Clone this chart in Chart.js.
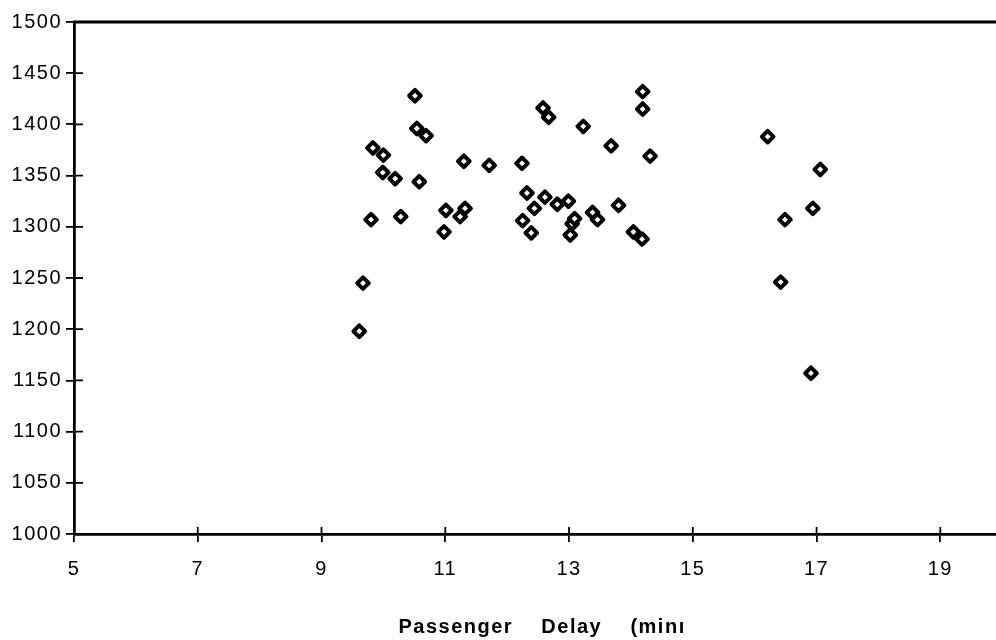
<!DOCTYPE html>
<html>
<head>
<meta charset="utf-8">
<script src="https://cdn.jsdelivr.net/npm/chart.js@4"></script>
<style>
  html, body { margin: 0; padding: 0; background: #fff; }
  #chart { display: block; }
</style>
</head>
<body>
<canvas id="chart" width="996" height="640"></canvas>
<script>
// valori: ritardo passeggeri (min) e valore sull'asse y
const delayMinutes = [9.61, 9.67, 9.80, 9.83, 10.00, 9.99, 10.19, 10.28, 10.51, 10.54, 10.69, 10.58,
  11.30, 11.01, 11.32, 11.24, 10.98, 11.71, 12.24, 12.58, 12.67, 13.23, 12.32, 12.44, 12.25, 12.39,
  12.61, 12.81, 12.99, 13.05, 13.09, 13.02, 13.38, 13.46, 14.19, 14.19, 13.68, 14.31, 13.80, 14.04,
  14.18, 16.21, 17.06, 16.94, 16.49, 16.42, 16.91];
const yValues = [1198, 1245, 1307, 1377, 1370, 1353, 1347, 1310, 1428, 1396, 1389, 1344,
  1364, 1316, 1318, 1310, 1295, 1360, 1362, 1416, 1407, 1398, 1333, 1318, 1306, 1294,
  1329, 1322, 1325, 1303, 1308, 1292, 1314, 1307, 1432, 1415, 1379, 1369, 1321, 1295,
  1288, 1388, 1356, 1318, 1307, 1246, 1157];
const xTicks = [5, 7, 9, 11, 13, 15, 17, 19];
const yTicks = [1000, 1050, 1100, 1150, 1200, 1250, 1300, 1350, 1400, 1450, 1500];
const xTitle = '  Passenger    Delay    (min\u0131';

const points = delayMinutes.map((x, i) => ({ x: x, y: yValues[i] }));

// spaziatura lettere come nell'originale
const spacing = {
  id: 'spacing',
  beforeLayout(chart) { chart.ctx.letterSpacing = '1.5px'; },
  beforeDraw(chart) { chart.ctx.letterSpacing = '1.5px'; },
  beforeDatasetsDraw(chart) { chart.ctx.lineJoin = 'round'; }
};

// cornice superiore e tacche che attraversano gli assi
const frame = {
  id: 'frame',
  afterDraw(chart) {
    const ctx = chart.ctx;
    const area = chart.chartArea;
    const xs = chart.scales.x, ys = chart.scales.y;
    ctx.save();
    ctx.strokeStyle = '#000';
    ctx.lineWidth = 2.8;
    ctx.beginPath();
    ctx.moveTo(area.left - 1, area.top);
    ctx.lineTo(area.right, area.top);
    ctx.stroke();
    ctx.lineWidth = 1.8;
    ctx.beginPath();
    xs.ticks.forEach(t => {
      const px = xs.getPixelForValue(t.value);
      ctx.moveTo(px, area.bottom);
      ctx.lineTo(px, area.bottom - 7);
    });
    ys.ticks.forEach(t => {
      const py = ys.getPixelForValue(t.value);
      ctx.moveTo(area.left, py);
      ctx.lineTo(area.left + 9, py);
    });
    ctx.stroke();
    ctx.restore();
  }
};

const font = "'Liberation Sans', Arial, Helvetica, sans-serif";

new Chart(document.getElementById('chart').getContext('2d'), {
  type: 'scatter',
  data: {
    datasets: [{
      data: points,
      pointStyle: 'rectRot',
      pointRadius: 5.8,
      pointHoverRadius: 5.8,
      borderWidth: 4,
      borderColor: '#000',
      backgroundColor: '#fff'
    }]
  },
  options: {
    responsive: false,
    animation: false,
    devicePixelRatio: 1,
    layout: { autoPadding: false, padding: { top: 22, left: 0, right: 0, bottom: 0 } },
    plugins: { legend: { display: false }, tooltip: { enabled: false } },
    scales: {
      x: {
        type: 'linear',
        min: 5,
        max: 19.9,
        afterBuildTicks: s => { s.ticks = xTicks.map(v => ({ value: v })); },
        afterFit: s => { s.paddingRight = 0; s.paddingLeft = 0; },
        grid: { drawOnChartArea: false, color: '#000', lineWidth: 1.8, tickLength: 8 },
        border: { display: true, color: '#000', width: 2.8 },
        ticks: {
          color: '#000', padding: 15, maxRotation: 0,
          font: { family: font, size: 20 },
          callback: v => String(v)
        },
        title: {
          display: true, text: xTitle, color: '#000',
          font: { family: font, size: 20, weight: 'bold' },
          padding: { top: 19, bottom: 1 }
        }
      },
      y: {
        min: 1000,
        max: 1500,
        afterBuildTicks: s => { s.ticks = yTicks.map(v => ({ value: v })); },
        afterFit: s => { s.width = 74; },
        grid: { drawOnChartArea: false, color: '#000', lineWidth: 1.8, tickLength: 8 },
        border: { display: true, color: '#000', width: 2.8 },
        ticks: {
          color: '#000', padding: 4,
          font: { family: font, size: 20 },
          callback: v => String(v)
        }
      }
    }
  },
  plugins: [spacing, frame]
});
</script>
</body>
</html>
